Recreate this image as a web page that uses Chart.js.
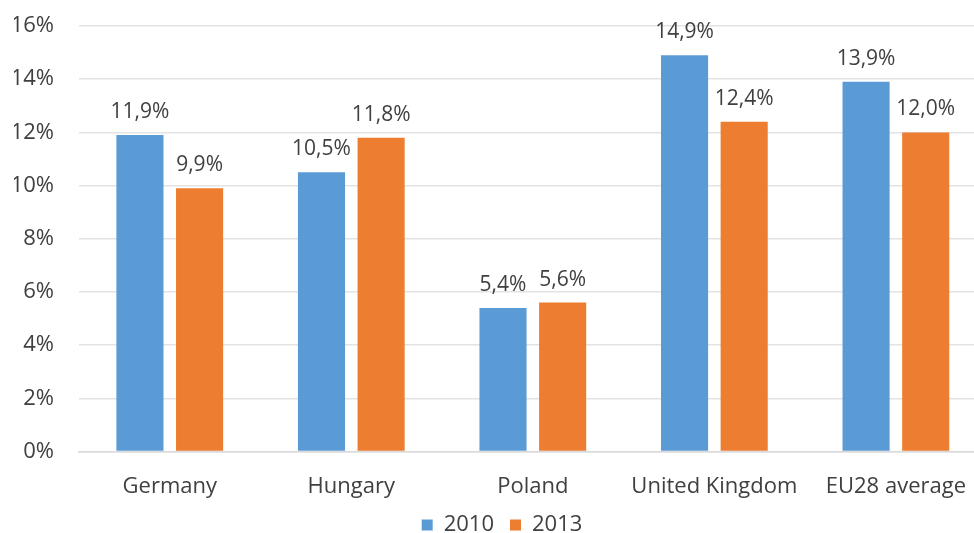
<!DOCTYPE html>
<html>
<head>
<meta charset="utf-8">
<script src="https://cdn.jsdelivr.net/npm/chart.js@4/dist/chart.umd.min.js"></script>
<style>
  html, body { margin: 0; padding: 0; background: #ffffff; overflow: hidden; }
  #wrap { width: 974px; height: 533px; overflow: hidden; }
</style>
</head>
<body>
<div id="wrap">
  <canvas id="chartRate" width="990" height="533"></canvas>
</div>
<script>
// paises e valores em %
const paises = ["Germany", "Hungary", "Poland", "United Kingdom", "EU28 average"];
const valores2010 = [11.9, 10.5, 5.4, 14.9, 13.9];
const valores2013 = [9.9, 11.8, 5.6, 12.4, 12.0];
const ticksY = [0, 2, 4, 6, 8, 10, 12, 14, 16];

const corTexto = "#404040";
const fonte = "'Open Sans', 'Noto Sans', sans-serif";

function formatarPct(valor, casas) {
  return valor.toFixed(casas).replace(".", ",") + "%";
}

// rotulos acima de cada barra
const rotulosBarras = {
  id: "rotulosBarras",
  afterDatasetsDraw(chart) {
    const ctx = chart.ctx;
    ctx.save();
    ctx.font = "21px " + fonte;
    ctx.fillStyle = corTexto;
    ctx.textAlign = "center";
    ctx.textBaseline = "alphabetic";
    chart.data.datasets.forEach(function (ds, i) {
      const meta = chart.getDatasetMeta(i);
      meta.data.forEach(function (bar, j) {
        ctx.fillText(formatarPct(ds.data[j], 1), bar.x, bar.y - 17);
      });
    });
    ctx.restore();
  },
};

// legenda mais baixa que o padrao do chart.js
const alturaLegenda = {
  id: "alturaLegenda",
  beforeInit(chart) {
    const fitOriginal = chart.legend.fit;
    chart.legend.fit = function () {
      fitOriginal.call(this);
      this.height = 35;
    };
  },
};

new Chart(document.getElementById("chartRate"), {
  type: "bar",
  data: {
    labels: paises,
    datasets: [
      {
        label: "2010",
        data: valores2010,
        backgroundColor: "#5b9bd5",
        categoryPercentage: 0.657,
        barPercentage: 0.79,
      },
      {
        label: "2013",
        data: valores2013,
        backgroundColor: "#ed7d31",
        categoryPercentage: 0.657,
        barPercentage: 0.79,
      },
    ],
  },
  options: {
    responsive: false,
    animation: false,
    layout: {
      padding: { left: 14, right: 0, top: 26, bottom: 0 },
    },
    plugins: {
      legend: {
        position: "bottom",
        labels: {
          color: corTexto,
          font: { family: fonte, size: 22 },
          boxWidth: 11,
          boxHeight: 11,
          padding: 16,
        },
      },
      tooltip: { enabled: false },
    },
    scales: {
      x: {
        grid: { display: false, drawTicks: false },
        border: { color: "#d9d9d9", width: 1.5 },
        ticks: {
          color: corTexto,
          font: { family: fonte, size: 22, lineHeight: 1 },
          padding: 24,
        },
        afterFit(scale) {
          scale.height = 46.5;
        },
      },
      y: {
        min: 0,
        max: 16,
        afterBuildTicks(scale) {
          scale.ticks = ticksY.map((v) => ({ value: v }));
        },
        afterFit(scale) {
          scale.width = 65;
          scale.paddingTop = 0;
          scale.paddingBottom = 0;
        },
        grid: { color: "#e3e3e3", lineWidth: 1.5, drawTicks: false },
        border: { display: false },
        ticks: {
          color: corTexto,
          font: { family: fonte, size: 22 },
          padding: 25,
          callback: (v) => formatarPct(v, 0),
        },
      },
    },
  },
  plugins: [rotulosBarras, alturaLegenda],
});
</script>
</body>
</html>
